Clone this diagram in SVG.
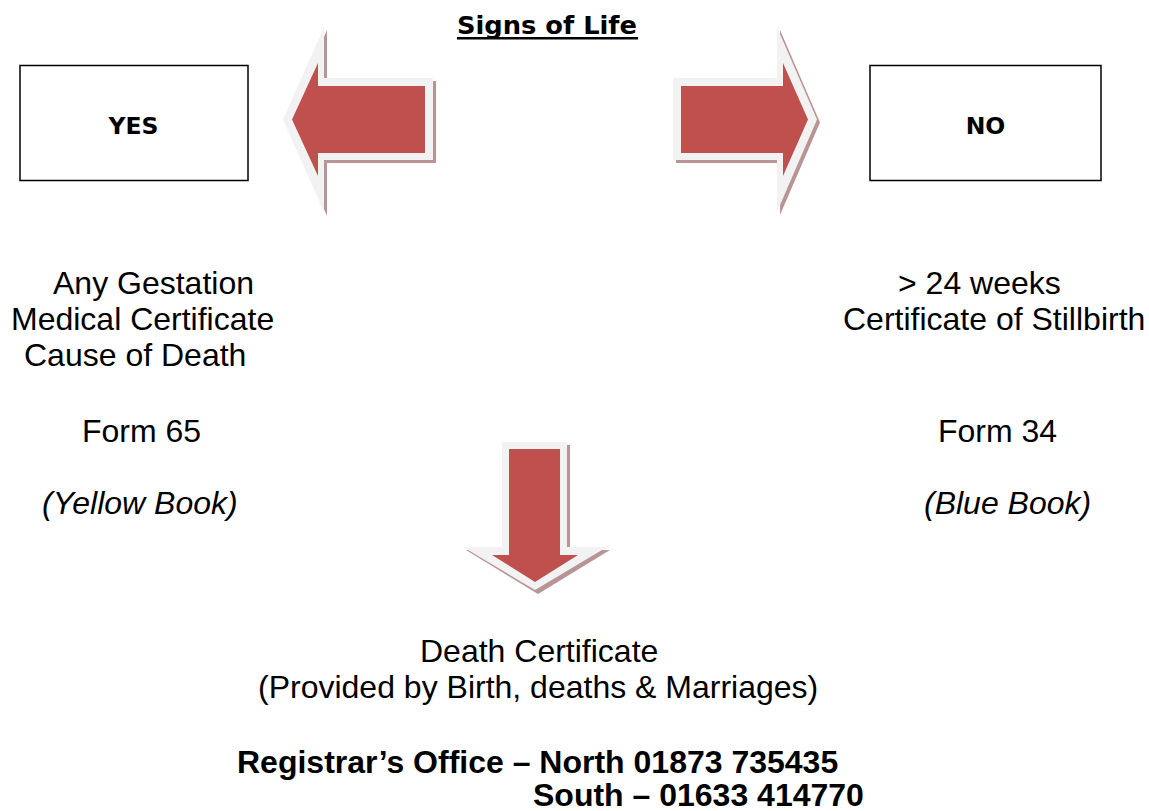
<svg xmlns="http://www.w3.org/2000/svg" width="1149" height="811" viewBox="0 0 1149 811">
<style>
.box{fill:#fff;stroke:#000;stroke-width:1.5}
.lbl{font-family:"DejaVu Sans",Verdana,sans-serif;font-weight:bold;font-size:23.5px;fill:#000;text-anchor:middle}
.t{font-family:"Liberation Sans",Arial,sans-serif;font-size:32px;fill:#000}
.i{font-style:italic}
.b{font-weight:bold}
.sh{fill:#b99494}
.out{fill:#f2f2f2}
.red{fill:#c0504d}
</style>
<rect width="1149" height="811" fill="#fff"/>
<g id="title">
<text x="547" y="34" font-family="'DejaVu Sans',Verdana,sans-serif" font-weight="bold" font-size="25" text-anchor="middle" textLength="180" lengthAdjust="spacingAndGlyphs">Signs of Life</text>
<rect x="457" y="37" width="181" height="2.5" fill="#000"/>
</g>
<g id="connectors">
<g id="arrow-left">
<polygon class="sh" points="286,122 327,30 327,81 436,81 436,163 327,163 327,216"/>
<polygon class="out" points="283,119.5 324,27 324,78 433,78 433,160 324,160 324,212"/>
<polygon class="red" points="292,119.5 318,63 318,86 425,86 425,153 318,153 318,176"/>
</g>
<g id="arrow-right">
<polygon class="sh" points="676,81 780,81 780,30 820,122.5 780,215 780,163 676,163"/>
<polygon class="out" points="673,78 777,78 777,27 817,119.5 777,212 777,160 673,160"/>
<polygon class="red" points="681,86 783,86 783,63 808,119.5 783,176 783,153 681,153"/>
</g>
<g id="arrow-down">
<polygon class="sh" points="505,445 570,445 570,550 610,550 538,594 466,550 505,550"/>
<polygon class="out" points="502,442 567,442 567,547 607,547 535,590 463,547 502,547"/>
<polygon class="red" points="509,449 560,449 560,555 578,555 535,582 492,555 509,555"/>
</g>
</g>
<g id="yes">
<rect class="box" x="20" y="65.5" width="228" height="115"/>
<text class="lbl" x="133.5" y="134">YES</text>
</g>
<g id="no">
<rect class="box" x="870" y="65.5" width="231" height="115"/>
<text class="lbl" x="985.5" y="134">NO</text>
</g>
<g id="yes-details">
<text class="t" x="53" y="294">Any Gestation</text>
<text class="t" x="11" y="330">Medical Certificate</text>
<text class="t" x="24" y="366">Cause of Death</text>
<text class="t" x="82" y="442">Form 65</text>
<text class="t i" x="42" y="514">(Yellow Book)</text>
</g>
<g id="no-details">
<text class="t" x="898" y="294">&gt; 24 weeks</text>
<text class="t" x="843" y="330">Certificate of Stillbirth</text>
<text class="t" x="938" y="442">Form 34</text>
<text class="t i" x="924" y="514">(Blue Book)</text>
</g>
<g id="death-certificate">
<text class="t" x="420" y="662">Death Certificate</text>
<text class="t" x="258" y="698">(Provided by Birth, deaths &amp; Marriages)</text>
</g>
<g id="registrar">
<text class="t b" x="237" y="773">Registrar’s Office – North 01873 735435</text>
<text class="t b" x="533" y="806">South – 01633 414770</text>
</g>
</svg>
